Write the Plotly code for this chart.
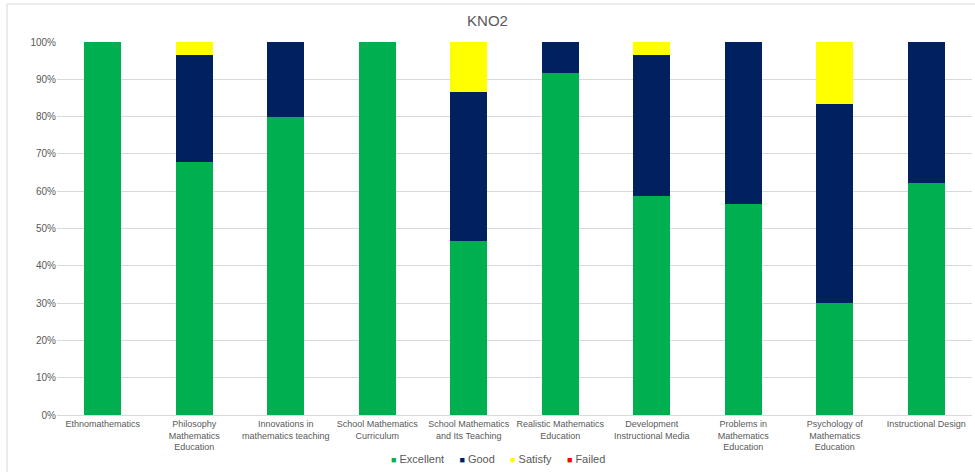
import plotly.graph_objects as go

categories = [
    "Ethnomathematics",
    "Philosophy<br>Mathematics<br>Education",
    "Innovations in<br>mathematics teaching",
    "School Mathematics<br>Curriculum",
    "School Mathematics<br>and Its Teaching",
    "Realistic Mathematics<br>Education",
    "Development<br>Instructional Media",
    "Problems in<br>Mathematics<br>Education",
    "Psychology of<br>Mathematics<br>Education",
    "Instructional Design",
]

excellent = [1.0, 0.6786, 0.80, 1.0, 0.4667, 0.9167, 0.5862, 0.5667, 0.30, 0.6207]
good = [0.0, 0.2857, 0.20, 0.0, 0.40, 0.0833, 0.3793, 0.4333, 0.5333, 0.3793]
satisfy = [0.0, 0.0357, 0.0, 0.0, 0.1333, 0.0, 0.0345, 0.0, 0.1667, 0.0]
failed = [0.0, 0.0, 0.0, 0.0, 0.0, 0.0, 0.0, 0.0, 0.0, 0.0]

series = [
    ("Excellent", excellent, "#00B050"),
    ("Good", good, "#002060"),
    ("Satisfy", satisfy, "#FFFF00"),
    ("Failed", failed, "#FF0000"),
]

fig = go.Figure()
for name, vals, color in series:
    fig.add_trace(go.Bar(
        x=categories, y=vals, name=name, showlegend=False,
        marker=dict(color=color, line=dict(width=0)),
    ))

# compact legend row: coloured square followed by the series name
legend_text = "&nbsp;&nbsp;&nbsp;&nbsp;&nbsp;".join(
    f"<span style='color:{color};font-size:9px'>■</span> {name}"
    for name, _, color in series
)

font_family = "Liberation Sans, Arial, sans-serif"
fig.update_layout(
    barmode="stack",
    bargap=0.6,
    width=975, height=472,
    margin=dict(l=57, r=3, t=42, b=57),
    paper_bgcolor="white",
    plot_bgcolor="white",
    font=dict(family=font_family, color="#595959"),
    title=dict(text="KNO2", x=0.5, xanchor="center", y=0.955, yanchor="middle",
               font=dict(size=15, color="#595959", family=font_family)),
    xaxis=dict(
        showgrid=False, showline=True, linecolor="#D9D9D9", linewidth=1,
        ticks="", tickfont=dict(size=9, color="#595959"), tickangle=0,
        automargin=False,
    ),
    yaxis=dict(
        range=[0, 1], tickformat=".0%", dtick=0.1,
        showgrid=True, gridcolor="#D9D9D9", gridwidth=1,
        zeroline=False, showline=False, ticks="",
        tickfont=dict(size=10, color="#595959"), automargin=False,
    ),
    annotations=[dict(
        text=legend_text, xref="paper", yref="paper",
        x=0.482, xanchor="center", y=-0.118, yanchor="middle",
        showarrow=False, font=dict(size=11, color="#595959"),
    )],
    shapes=[
        # chart-area frame; right and bottom edges fall past the page edge
        dict(type="rect", xref="paper", yref="paper",
             x0=-0.0546, x1=1.02, y0=-0.2, y1=1.102,
             line=dict(color="#D9D9D9", width=1),
             fillcolor="rgba(0,0,0,0)", layer="below"),
    ],
)

fig.write_html("out.html")
